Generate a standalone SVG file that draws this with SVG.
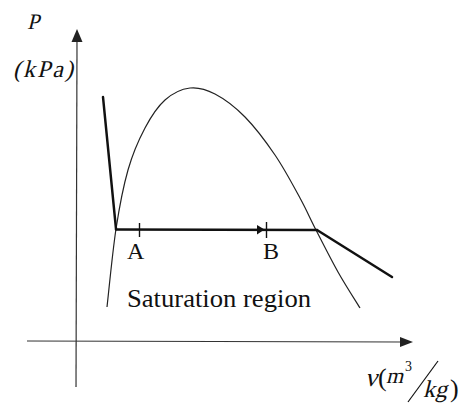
<svg xmlns="http://www.w3.org/2000/svg" width="461" height="406" viewBox="0 0 461 406">
<style>
text{font-family:"Liberation Serif","Times New Roman",serif;fill:#111}
.axis{stroke:#333;stroke-width:1.2;fill:none}
.thick{stroke:#111;stroke-width:2.5;fill:none;stroke-linecap:round}
.thin{stroke:#222;stroke-width:1.2;fill:none}
.tick{stroke:#111;stroke-width:1.4}
</style>
<rect width="461" height="406" fill="#fff"/>
<g id="axes">
<line class="axis" x1="76" y1="387" x2="77" y2="40"/>
<polygon points="77,29 71.5,42 82.5,42" fill="#222"/>
<line class="axis" x1="27" y1="341" x2="402" y2="342"/>
<polygon points="413,342 400,337 400,347" fill="#222"/>
</g>
<g id="dome">
<path class="thin" d="M107,307 C108.5,294 112.5,251.8 116,229 C119.5,206.2 123.2,186.8 128,170 C132.8,153.2 138.8,139.7 145,128 C151.2,116.3 157.5,106.7 165,100 C172.5,93.3 181.7,89 190,88 C198.3,87 205.8,89.2 215,94 C224.2,98.8 235,106.8 245,117 C255,127.2 265.8,141.5 275,155 C284.2,168.5 293.2,185.5 300,198 C306.8,210.5 309.7,217.7 316,230 C322.3,242.3 330.7,259 338,272 C345.3,285 356.3,302 360,308"/>
</g>
<g id="connectors">
<line class="thick" x1="103" y1="97" x2="116" y2="229"/>
<line class="thick" x1="116" y1="229.5" x2="317" y2="230"/>
<line class="thick" x1="317" y1="230" x2="392" y2="277"/>
<polygon points="264.5,229.6 257,225 257,234.5" fill="#111"/>
</g>
<g id="pointA">
<line class="tick" x1="139.5" y1="223" x2="139.5" y2="237"/>
<text x="127" y="259" font-size="24">A</text>
</g>
<g id="pointB">
<line class="tick" x1="266.5" y1="222" x2="266.5" y2="238"/>
<text x="263" y="258.5" font-size="24">B</text>
</g>
<g id="region">
<text x="127" y="307" font-size="25" textLength="184" lengthAdjust="spacingAndGlyphs">Saturation region</text>
</g>
<g id="ylabel">
<text transform="translate(27,29) skewX(-14)" font-size="22">P</text>
<text transform="translate(13,77) skewX(-14)" font-size="24" textLength="60" lengthAdjust="spacing">(kPa)</text>
</g>
<g id="xlabel">
<text transform="translate(365,386) skewX(-14)" font-size="26">ν</text>
<text x="378" y="386" font-size="26">(</text>
<text transform="translate(386,383) skewX(-14)" font-size="22">m</text>
<text x="405" y="371" font-size="14">3</text>
<line x1="438" y1="361" x2="408" y2="402" stroke="#111" stroke-width="1.2"/>
<text transform="translate(423,397) skewX(-14)" font-size="24">kg</text>
<text x="450" y="397" font-size="26">)</text>
</g>
</svg>
